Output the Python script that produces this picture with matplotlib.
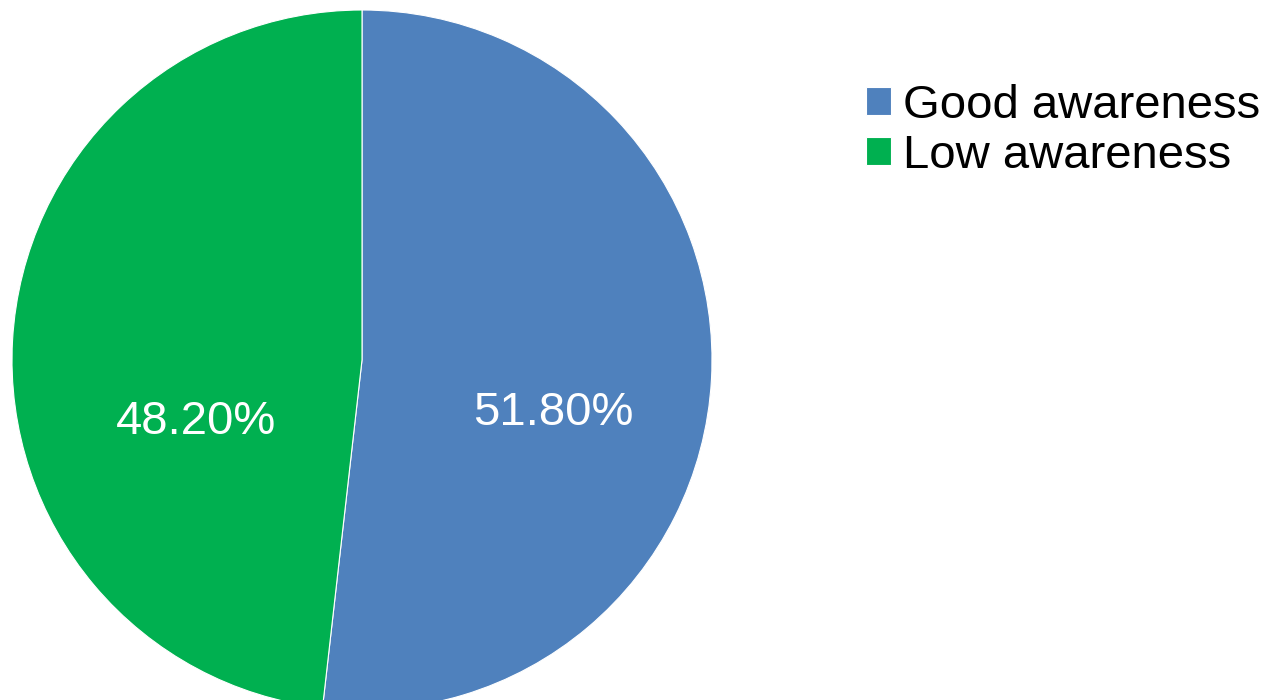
import matplotlib.pyplot as plt

labels = ['Good awareness', 'Low awareness']
shares = [51.8, 48.2]
colors = ['#4F81BD', '#00B050']

plt.rcParams['font.family'] = ['Liberation Sans', 'DejaVu Sans']

fig = plt.figure(figsize=(12.73, 7.0), dpi=100)
# pie centre ~ (362, 360) px, radius ~350 px
ax = fig.add_axes([12 / 1273, -10 / 700, 700 / 1273, 700 / 700])
wedges, texts, autotexts = ax.pie(
    shares, colors=colors, startangle=90, counterclock=False,
    autopct='%.2f%%', pctdistance=0.55,
    wedgeprops=dict(edgecolor='white', linewidth=0.8),
    textprops=dict(color='white', fontsize=34))
# excel "best fit" label spots (in pie radius units)
label_pos = [(0.546, -0.151), (-0.474, -0.177)]
for t, p in zip(autotexts, label_pos):
    t.set_position(p)
ax.set_xlim(-1, 1)
ax.set_ylim(-1, 1)
ax.set_aspect('equal')
ax.axis('off')

fig.legend(wedges, labels, loc='upper left', bbox_to_anchor=(866 / 1273, 1 - 84 / 700),
           frameon=False, fontsize=34, handlelength=0.53, handleheight=0.53,
           handletextpad=0.26, labelspacing=0.13, borderpad=0, borderaxespad=0)

fig.savefig('out.png', dpi=100)
